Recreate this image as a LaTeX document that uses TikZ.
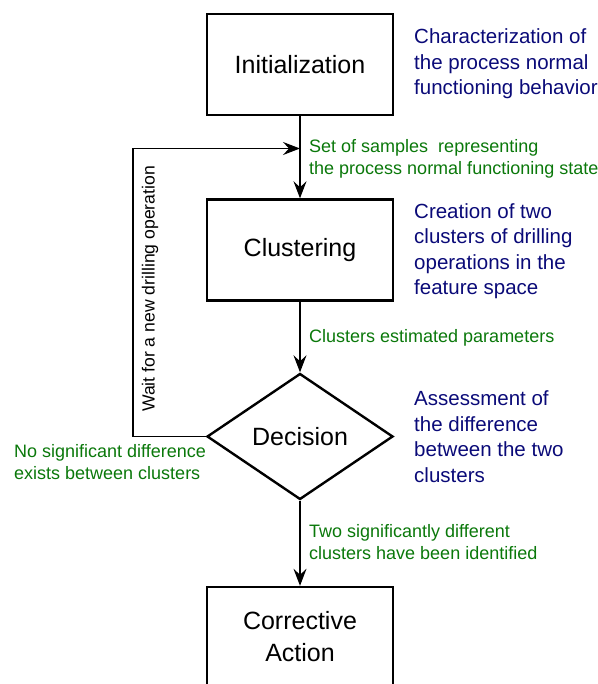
\documentclass[tikz,border=0pt]{standalone}
\usepackage{fontspec}
\setmainfont{Liberation Sans}
\usetikzlibrary{shapes.geometric,arrows.meta}
\definecolor{descblue}{RGB}{10,10,120}
\definecolor{flowgreen}{RGB}{10,120,10}
\begin{document}
\begin{tikzpicture}[x=1pt,y=-1pt,
  stepbox/.style={draw,line width=2.4pt,minimum width=186pt,minimum height=101pt,inner sep=0pt,
    font=\fontsize{25}{32}\selectfont,align=center},
  decbox/.style={draw,diamond,line width=2.4pt,minimum width=186pt,minimum height=126pt,inner sep=0pt,
    font=\fontsize{25}{30}\selectfont},
  conn/.style={line width=1.2pt,-{Stealth[length=17pt,width=13pt,inset=6pt]}},
  desc/.style={anchor=north west,align=left,text=descblue,inner sep=0pt,
    font=\fontsize{20.5}{25.5}\selectfont},
  flow/.style={anchor=north west,align=left,text=flowgreen,inner sep=0pt,
    font=\fontsize{18}{22.5}\selectfont}]
\clip (0,0) rectangle (597,684);
\node[stepbox] (init) at (300,64.5) {Initialization};
\node[stepbox] (clus) at (300,250) {Clustering};
\node[decbox] (dec) at (300,436.5) {Decision};
\node[stepbox,minimum height=100pt] (corr) at (300,637) {Corrective\\Action};
\coordinate (merge) at (300,148.5);
\coordinate (loopbot) at (133,436.5);
\draw[conn] (init.south) -- (clus.north);
\draw[conn] (clus.south) -- (dec.north);
\draw[conn] (dec.south) -- (corr.north);
\draw[conn] (dec.west) -- (loopbot) |- (merge);
\node[desc] (d1) at (414,28.5) {Characterization of\\the process normal\\functioning behavior};
\node[desc] (d2) at (414,203) {Creation of two\\clusters of drilling\\operations in the\\feature space};
\node[desc] (d3) at (414,390.5) {Assessment of\\the difference\\between the two\\clusters};
\node[flow] (f1) at (309,139) {Set of samples\ \ representing\\the process normal functioning state};
\node[flow] (f2) at (309,329.5) {Clusters estimated parameters};
\node[flow] (f3) at (309,524) {Two significantly different\\clusters have been identified};
\node[flow] (f4) at (14,444) {No significant difference\\exists between clusters};
\node[rotate=90,inner sep=0pt,font=\fontsize{17.6}{20}\selectfont] (wait) at (150,289) {Wait for a new drilling operation};
\end{tikzpicture}
\end{document}
